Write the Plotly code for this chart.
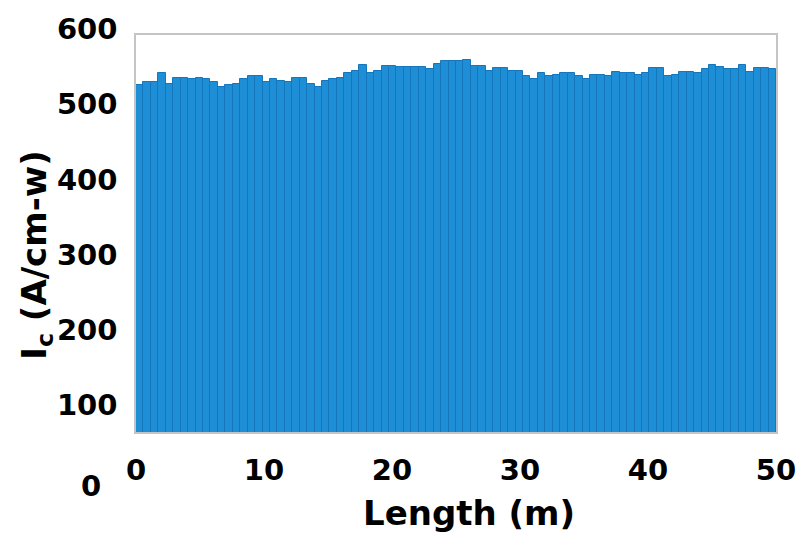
import plotly.graph_objects as go

# Critical current along the tape, one bar per segment (86 segments over 50 m)
n_segments = 86
tape_length_m = 50
length_m = [round((i + 0.5) * tape_length_m / n_segments, 3) for i in range(n_segments)]
ic_values = [
    534, 538, 538, 550, 535, 543, 543, 541, 543, 542,
    537, 531, 534, 535, 542, 546, 546, 537, 542, 539,
    537, 543, 543, 535, 531, 539, 541, 543, 549, 552,
    560, 549, 552, 559, 559, 558, 558, 558, 558, 555,
    562, 566, 566, 566, 567, 559, 559, 552, 556, 556,
    552, 552, 546, 541, 550, 545, 547, 550, 550, 545,
    542, 547, 547, 545, 551, 549, 549, 547, 550, 556,
    556, 546, 547, 551, 551, 550, 555, 560, 558, 555,
    555, 560, 551, 556, 556, 555,
]
x_ticks = [0, 10, 20, 30, 40, 50]
y_ticks = [100, 200, 300, 400, 500, 600]

FONT = "DejaVu Sans"
tick_font = dict(family=FONT, size=29, color="black", weight="bold")

fig = go.Figure(
    go.Bar(
        x=length_m,
        y=ic_values,
        width=tape_length_m / n_segments,
        marker=dict(color="#1e8fd6", line=dict(color="#1676bb", width=1)),
    )
)

fig.update_layout(
    width=808,
    height=534,
    margin=dict(l=136, r=30, t=34, b=102),
    paper_bgcolor="white",
    plot_bgcolor="white",
    bargap=0,
    showlegend=False,
    xaxis=dict(
        range=[0, 50],
        tickvals=x_ticks,
        ticktext=[str(v) for v in x_ticks],
        tickfont=tick_font,
        showgrid=False,
        zeroline=False,
        ticks="",
        showline=True,
        mirror=True,
        linecolor="#c4c4c4",
        linewidth=1.5,
        ticklabelstandoff=11,
    ),
    yaxis=dict(
        range=[72.2, 600],
        tickvals=y_ticks,
        ticktext=[str(v) for v in y_ticks],
        tickfont=tick_font,
        showgrid=False,
        zeroline=False,
        ticks="",
        showline=True,
        mirror=True,
        linecolor="#c4c4c4",
        linewidth=1.5,
        ticklabelstandoff=11,
        ticklabelshift=-6,
    ),
    annotations=[
        dict(
            text="Length (m)",
            xref="paper", yref="paper",
            x=(470 - 136) / 642, y=(432 - 513) / 398,
            xanchor="center", yanchor="middle",
            showarrow=False,
            font=dict(family=FONT, size=34, color="black", weight="bold"),
        ),
        dict(
            text="I<sub>c</sub> (A/cm-w)",
            xref="paper", yref="paper",
            x=(36 - 136) / 642, y=(432 - 254) / 398,
            xanchor="center", yanchor="middle",
            textangle=-90,
            showarrow=False,
            font=dict(family=FONT, size=34, color="black", weight="bold"),
        ),
        dict(
            text="0",
            xref="paper", yref="paper",
            x=(91 - 136) / 642, y=(432 - 486) / 398,
            xanchor="center", yanchor="middle",
            showarrow=False,
            font=tick_font,
        ),
    ],
)

fig.write_html("out.html")
